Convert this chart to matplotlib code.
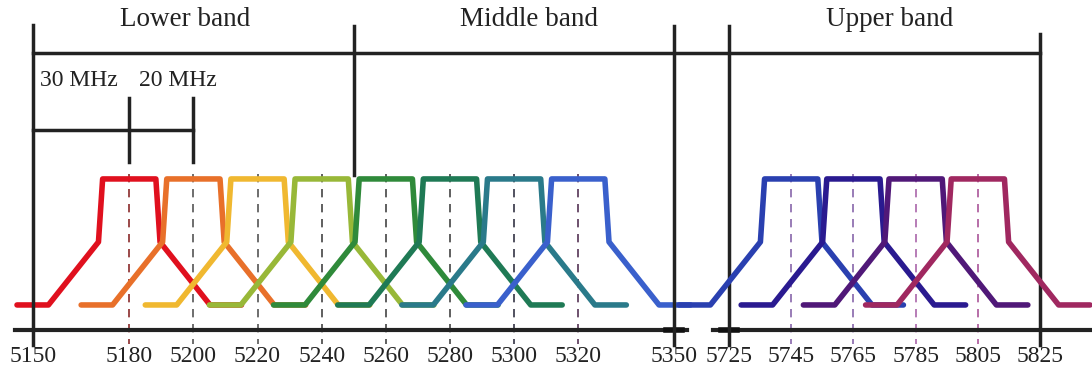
import numpy as np
import matplotlib.pyplot as plt

plt.rcParams['font.family'] = ['Liberation Serif', 'DejaVu Serif']

# channel centre frequencies (MHz) and colours
lower_centres = [5180, 5200, 5220, 5240, 5260, 5280, 5300, 5320]
upper_centres = [5745, 5765, 5785, 5805]
lower_colors = ['#e0101e', '#e8702a', '#f0b830', '#98b838',
                '#2f8a3a', '#1f7a55', '#2a7a8a', '#3a60cc']
upper_colors = ['#2a40b0', '#2a1a90', '#501878', '#a02860']
dash_lower = ['#8a2a2a', '#555555', '#555555', '#444444',
              '#444444', '#444444', '#333344', '#553355']
dash_upper = ['#8866aa', '#8866aa', '#aa66aa', '#aa5599']

# spectral mask drawn for each channel: offset (MHz) vs level (dB)
mask_offset = [-35, -25.2, -9.6, -8.3, 8.3, 9.6, 25.2, 35]
mask_level = [-40, -40, -20, 0, 0, -20, -40, -40]

# tick labels and band edges
tick_freqs = [5150, 5180, 5200, 5220, 5240, 5260, 5280, 5300, 5320,
              5350, 5725, 5745, 5765, 5785, 5805, 5825]
band_edges = [5150, 5250, 5350, 5725, 5825]
band_names = ['Lower band', 'Middle band', 'Upper band']

GAP = 17  # axis break between 5350 and 5725


def pos(f):
    f = np.asarray(f, dtype=float)
    return np.where(f < 5500, f, 5350 + GAP + (f - 5725) * 0.97)


fig = plt.figure(figsize=(10.92, 3.79), dpi=100)
ax = fig.add_axes([0, 0, 1, 1])
ax.set_xlim(5139.7, 5480.2)
ax.set_ylim(-63.5, 56.8)
ax.axis('off')

centres = lower_centres + upper_centres
colors = lower_colors + upper_colors
dashes = dash_lower + dash_upper
for i, (c, col) in enumerate(zip(centres, colors)):
    x = pos(c) + np.array(mask_offset)
    ax.plot(x, mask_level, color=col, lw=4, solid_joinstyle='round',
            solid_capstyle='round', zorder=3 + i)
    ax.plot([pos(c), pos(c)], [1.5, -52.5], color=dashes[i], lw=1.2,
            ls=(0, (5, 4)), zorder=2)

# frequency axis (broken)
ax.plot([5144.5, 5354], [-48, -48], color='#222222', lw=3, zorder=2)
ax.plot([pos(5720), 5480.2], [-48, -48], color='#222222', lw=3, zorder=2)
for f in [5350, 5725]:
    ax.plot([pos(f) - 2.5, pos(f) + 2.5], [-48, -48], color='#111111', lw=4)
for f in tick_freqs:
    ax.text(pos(f), -56.5, str(f), ha='center', va='center', fontsize=17,
            color='#222222')

# band brackets
edge_x = pos(band_edges)
tops = [48.9, 48.5, 48.5, 48.5, 46]
bots = [-52.7, 1.3, -52.7, -52.7, -52.7]
for x, t, b in zip(edge_x, tops, bots):
    ax.plot([x, x], [b, t], color='#222222', lw=2.5, zorder=10)
ax.plot([edge_x[0], edge_x[-1]], [40, 40], color='#222222', lw=2.5, zorder=10)
label_x = [5197.5, 5304.5, 5417]
for x, name in zip(label_x, band_names):
    ax.text(x, 50.5, name, ha='center', va='center', fontsize=19.5,
            color='#222222')

# 30 MHz / 20 MHz spacing bracket
ax.plot([5150, 5200], [15.6, 15.6], color='#222222', lw=2.5)
for f in [5180, 5200]:
    ax.plot([f, f], [5.4, 25.7], color='#222222', lw=2.5)
ax.text(5152.3, 31.4, '30 MHz', ha='left', va='center', fontsize=17,
        color='#222222')
ax.text(5183, 31.4, '20 MHz', ha='left', va='center', fontsize=17,
        color='#222222')

fig.savefig('out.png', dpi=100)
